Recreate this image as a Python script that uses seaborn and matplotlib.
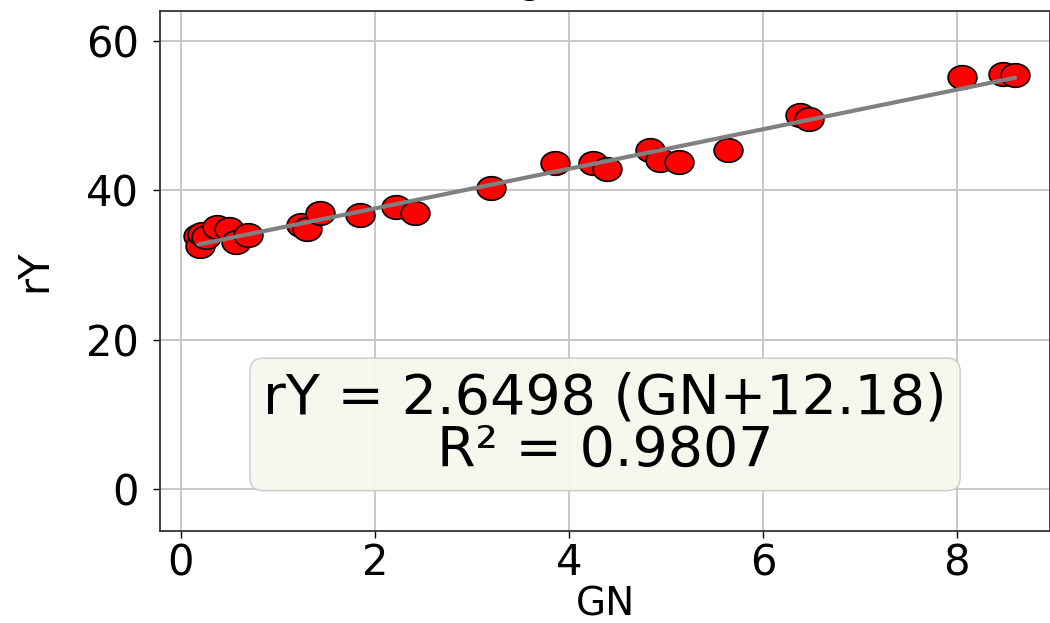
import numpy as np
import pandas as pd
import matplotlib
matplotlib.use("Agg")
import matplotlib.pyplot as plt
from matplotlib.path import Path
import seaborn as sns

# ---- data ----
gn = [0.18, 0.20, 0.22, 0.26, 0.37, 0.50, 0.57, 0.69, 1.24, 1.30, 1.43, 1.85,
      2.22, 2.41, 3.20, 3.86, 4.25, 4.39, 4.84, 4.94, 5.14, 5.64, 6.38, 6.48,
      8.05, 8.48, 8.60]
ry = [33.9, 32.6, 34.2, 33.8, 35.1, 34.8, 33.1, 34.0, 35.3, 34.8, 36.9, 36.7,
      37.8, 36.9, 40.3, 43.6, 43.6, 42.9, 45.4, 44.0, 43.8, 45.4, 50.1, 49.6,
      55.2, 55.6, 55.5]
slope = 2.6498
offset = 12.18
r2 = 0.9807
title_text = "Regression"
x_ticks = [0, 2, 4, 6, 8]
y_ticks = [0, 20, 40, 60]

df = pd.DataFrame({"GN": gn, "rY": ry})
fit_x = np.array([min(gn), max(gn)])
fit_df = pd.DataFrame({"GN": fit_x, "rY": slope * (fit_x + offset)})

sns.set_theme(style="ticks")
plt.rcParams["font.family"] = ["DejaVu Sans"]
plt.rcParams["text.color"] = "black"
plt.rcParams["axes.labelcolor"] = "black"

fig = plt.figure(figsize=(10.5, 6.23), dpi=100)
ax = fig.add_axes([160 / 1050, (623 - 531) / 623, 890 / 1050, 520 / 623])

# slightly wide ellipse marker (reference is horizontally stretched)
t = np.linspace(0, 2 * np.pi, 80)
ell = Path(np.column_stack([1.22 * np.cos(t), np.sin(t)]), closed=True)

ax.grid(True, color="#c4c4c4", linewidth=1.3, zorder=0)
ax.set_axisbelow(True)

sns.scatterplot(data=df, x="GN", y="rY", ax=ax, marker=ell, s=430,
                color="red", edgecolor="black", linewidth=1.2, zorder=3)
sns.lineplot(data=fit_df, x="GN", y="rY", ax=ax, color="#808080",
             linewidth=3.0, zorder=4)

ax.set_xlim(-0.216, 8.96)
ax.set_ylim(-5.6, 64.0)
ax.set_xticks(x_ticks)
ax.set_yticks(y_ticks)
ax.tick_params(axis="both", labelsize=30, length=5, width=1.0, colors="black")
ax.tick_params(axis="y", pad=10)
ax.tick_params(axis="x", pad=3)
for sp in ax.spines.values():
    sp.set_color("#333333")
    sp.set_linewidth(1.3)

ax.set_xlabel("GN", fontsize=28, color="black")
ax.set_ylabel("rY", fontsize=30, color="black")
ax.xaxis.set_label_coords(0.5, -0.104)
ax.yaxis.set_label_coords(-0.118, 0.5)

ax.set_title(title_text, fontsize=30, pad=14, x=0.472, color="black")

ax.text(0.5, 0.205, f"rY = {slope:.4f} (GN+{offset:.2f})\nR² = {r2:.4f}",
        transform=ax.transAxes, ha="center", va="center", fontsize=40,
        multialignment="center", linespacing=0.95, zorder=5, color="black",
        bbox=dict(boxstyle="round,pad=0.24", facecolor="#f7f7ee",
                  edgecolor="#c8c8c8", alpha=0.95))

fig.savefig("out.png", dpi=100)
